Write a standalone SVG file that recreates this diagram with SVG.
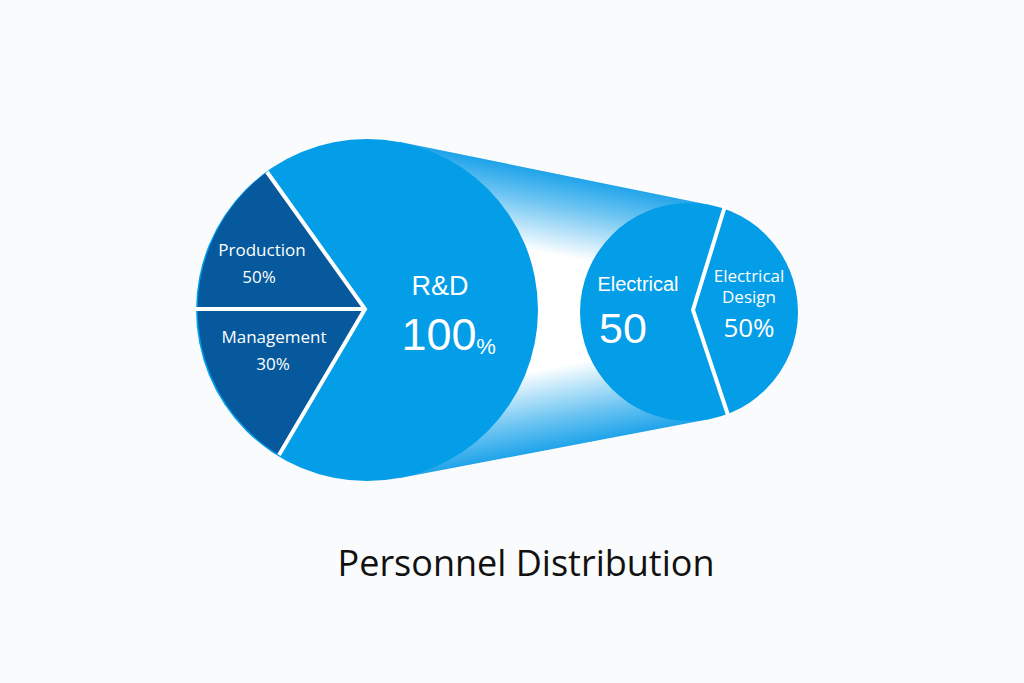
<svg xmlns="http://www.w3.org/2000/svg" width="1024" height="683" viewBox="0 0 1024 683">
  <defs>
    <linearGradient id="gTop" gradientUnits="userSpaceOnUse" x1="555" y1="173" x2="536" y2="272">
      <stop offset="0" stop-color="#1ea3ea"/>
      <stop offset="0.3" stop-color="#6cc4f2"/>
      <stop offset="0.8" stop-color="#ffffff"/>
      <stop offset="1" stop-color="#ffffff"/>
    </linearGradient>
    <linearGradient id="gBot" gradientUnits="userSpaceOnUse" x1="555" y1="449" x2="536" y2="350">
      <stop offset="0" stop-color="#1ea3ea"/>
      <stop offset="0.3" stop-color="#6cc4f2"/>
      <stop offset="0.8" stop-color="#ffffff"/>
      <stop offset="1" stop-color="#ffffff"/>
    </linearGradient>
    <style>
      .light { fill: #039de8; }
      .dark { fill: #05599c; }
      .div { fill: none; stroke: #ffffff; stroke-width: 4; stroke-linejoin: miter; }
      .cal { font-family: "Open Sans", "Noto Sans", sans-serif; fill: #ffffff; text-anchor: middle; }
      .ari { font-family: "Liberation Sans", Arial, sans-serif; fill: #ffffff; text-anchor: middle; }
    </style>
  </defs>
  <rect width="1024" height="683" fill="#fafbfc"/>

  <g id="connectors">
    <polygon points="400,142 710,205 710,311 400,311" fill="url(#gTop)"/>
    <polygon points="400,311 710,311 710,419 400,478" fill="url(#gBot)"/>
  </g>

  <g id="pie-main">
    <circle class="light" cx="367" cy="310" r="171"/>
    <path class="dark" d="M365,309 L267,172 A171,171 0 0 0 279,455 Z"/>
    <polyline class="div" points="267,172 365,309 279,455"/>
    <line class="div" x1="196" y1="309" x2="365" y2="309"/>
  </g>

  <g id="node-production">
    <text class="cal" x="262" y="256" font-size="17">Production</text>
    <text class="cal" x="259" y="283" font-size="17">50%</text>
  </g>
  <g id="node-management">
    <text class="cal" x="274" y="343" font-size="17">Management</text>
    <text class="cal" x="273" y="370" font-size="17">30%</text>
  </g>
  <g id="node-rd">
    <text class="ari" x="440" y="295" font-size="27">R&amp;D</text>
    <text class="ari" x="439" y="350" font-size="45">100</text>
    <text class="ari" x="486" y="354" font-size="22">%</text>
  </g>

  <g id="pie-sub">
    <circle class="light" cx="689" cy="312" r="109"/>
    <polyline class="div" points="725,206 693,310 728,415"/>
  </g>
  <g id="node-electrical">
    <text class="ari" x="638" y="291" font-size="20">Electrical</text>
    <text class="ari" x="623" y="343" font-size="43">50</text>
  </g>
  <g id="node-electrical-design">
    <text class="cal" x="749" y="282" font-size="17">Electrical</text>
    <text class="cal" x="749" y="303" font-size="17">Design</text>
    <text class="cal" x="749" y="337" font-size="26">50%</text>
  </g>

  <g id="title">
    <text x="526" y="576" font-family="'Open Sans', 'Noto Sans', sans-serif" font-size="36" fill="#111111" text-anchor="middle">Personnel Distribution</text>
  </g>
</svg>
